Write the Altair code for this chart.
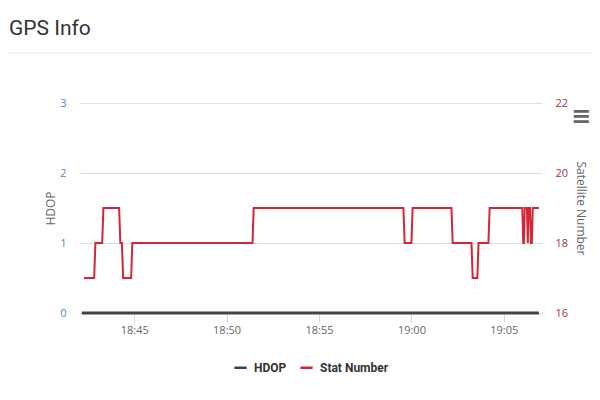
import altair as alt
import pandas as pd

# ---- data ----
day = "2024-01-01T"
sat_times = [
    "18:42:17", "18:42:50", "18:42:54", "18:43:16", "18:43:20", "18:44:11",
    "18:44:15", "18:44:20", "18:44:24", "18:44:50", "18:44:54", "18:51:24",
    "18:51:28", "18:59:34", "18:59:38", "19:00:00", "19:00:04", "19:02:10",
    "19:02:14", "19:03:15", "19:03:19", "19:03:34", "19:03:38", "19:04:10",
    "19:04:14", "19:06:00", "19:06:03", "19:06:05", "19:06:08", "19:06:15",
    "19:06:18", "19:06:20", "19:06:25", "19:06:28", "19:06:31", "19:06:34",
    "19:06:54",
]
sat_values = [
    17, 17, 18, 18, 19, 19,
    18, 18, 17, 17, 18, 18,
    19, 19, 18, 18, 19, 19,
    18, 18, 17, 17, 18, 18,
    19, 19, 18, 18, 19, 19,
    18, 19, 19, 18, 18, 19,
    19,
]
hdop_times = ["18:42:10", "18:50:00", "19:00:00", "19:06:54"]
hdop_values = [0, 0, 0, 0]

series_names = ["HDOP", "Stat Number"]
series_colors = ["#434348", "#d42636"]
x_tick_times = [(18, 45), (18, 50), (18, 55), (19, 0), (19, 5)]
x_domain = [(18, 42, 4), (19, 7, 4)]
left_ticks = [0, 1, 2, 3]
right_ticks = [16, 18, 20, 22]


def dt(h, m, s=0):
    return alt.DateTime(year=2024, month=1, date=1, hours=h, minutes=m, seconds=s)


sat_df = pd.DataFrame({"time": [day + t for t in sat_times], "value": sat_values,
                       "series": "Stat Number"})
hdop_df = pd.DataFrame({"time": [day + t for t in hdop_times], "value": hdop_values,
                        "series": "HDOP"})

color = alt.Color(
    "series:N",
    scale=alt.Scale(domain=series_names, range=series_colors),
    legend=alt.Legend(
        title=None, orient="none", direction="horizontal", legendX=153, legendY=257,
        symbolType="stroke", symbolSize=150, symbolStrokeWidth=2.5,
        labelFont="Roboto", labelFontSize=12, labelFontWeight="bold", labelColor="#333333",
        columnPadding=8, labelOffset=6,
    ),
)

x = alt.X(
    "time:T",
    scale=alt.Scale(domain=[dt(*x_domain[0]), dt(*x_domain[1])]),
    axis=alt.Axis(
        values=[dt(h, m) for h, m in x_tick_times], format="%H:%M", title=None,
        grid=False, domainColor="#ccd6eb", tickColor="#ccd6eb", tickSize=9,
        labelColor="#666666", labelFont="Open Sans", labelFontSize=11, labelPadding=2,
    ),
)

hdop_line = alt.Chart(hdop_df).mark_line(strokeWidth=3).encode(
    x=x,
    y=alt.Y(
        "value:Q",
        scale=alt.Scale(domain=[0, 3], nice=False, zero=False),
        axis=alt.Axis(
            values=left_ticks, title="HDOP", grid=True, gridColor="#dedede",
            domain=False, ticks=False, labelColor="#4f89c4", labelFont="Open Sans",
            labelFontSize=11, labelPadding=14, titleColor="#666666", titleFont="Open Sans",
            titleFontSize=12, titleFontWeight="normal", titlePadding=2,
        ),
    ),
    color=color,
)

sat_line = alt.Chart(sat_df).mark_line(strokeWidth=2).encode(
    x=x,
    y=alt.Y(
        "value:Q",
        scale=alt.Scale(domain=[16, 22], nice=False, zero=False),
        axis=alt.Axis(
            values=right_ticks, orient="right", title="Satellite Number", grid=False,
            domain=False, ticks=False, labelColor="#a8323e", labelFont="Open Sans",
            labelFontSize=11, labelPadding=13, titleColor="#666666", titleFont="Open Sans",
            titleFontSize=12, titleFontWeight="normal", titlePadding=6,
        ),
    ),
    color=color,
)

sep = alt.Chart(pd.DataFrame({"a": [0]})).mark_rule(color="#ebebeb", strokeWidth=1).encode(
    x=alt.value(-80), x2=alt.value(520), y=alt.value(-50)
)

menu = alt.Chart(pd.DataFrame({"a": [0]})).mark_text(
    text="≡", font="DejaVu Sans", fontSize=24, fontWeight="bold", color="#666666",
    align="center", baseline="middle",
).encode(x=alt.value(501), y=alt.value(14))

chart = (
    alt.layer(hdop_line, sat_line, sep, menu)
    .resolve_scale(y="independent")
    .properties(
        width=462, height=210,
        autosize=alt.AutoSizeParams(type="none"),
        padding={"left": 72, "top": 95, "right": 50, "bottom": 79},
        title=alt.TitleParams(
            "GPS Info", anchor="start", frame="group", orient="top", dx=-71,
            offset=0, dy=3, baseline="alphabetic", font="Roboto", fontSize=21,
            fontWeight="normal", color="#333333",
        ),
    )
    .configure_view(stroke=None)
)

chart.save("out.html", embed_options={"renderer": "svg", "actions": False})
